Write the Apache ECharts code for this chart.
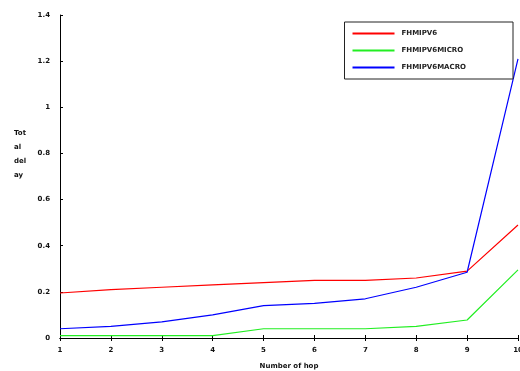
<!DOCTYPE html>
<html>
<head>
<meta charset="utf-8">
<script src="https://cdn.jsdelivr.net/npm/echarts@6/dist/echarts.min.js"></script>
<style>
  html, body { margin: 0; padding: 0; background: #fff; }
  #chart { width: 520px; height: 371px; }
</style>
</head>
<body>
<div id="chart"></div>
<script>
  // hop numbers on the x axis
  var hops = [1, 2, 3, 4, 5, 6, 7, 8, 9, 10];
  // total delay per scheme
  var fhmipv6 = [0.195, 0.21, 0.22, 0.23, 0.24, 0.25, 0.25, 0.26, 0.29, 0.49];
  var fhmipv6Micro = [0.01, 0.01, 0.01, 0.01, 0.04, 0.04, 0.04, 0.05, 0.078, 0.295];
  var fhmipv6Macro = [0.04, 0.05, 0.07, 0.1, 0.14, 0.15, 0.17, 0.22, 0.285, 1.21];
  var seriesNames = ['FHMIPV6', 'FHMIPV6MICRO', 'FHMIPV6MACRO'];

  function pairs(vals) {
    return hops.map(function (h, i) { return [h, vals[i]]; });
  }

  var myChart = echarts.init(document.getElementById('chart'));
  var font = { fontFamily: 'DejaVu Sans', fontSize: 7, fontWeight: 'bold', color: '#111' };

  var option = {
    animation: false,
    // y axis title, broken over lines like in the source image
    title: {
      text: 'Tot\nal\ndel\nay',
      left: 9,
      top: 121,
      textStyle: { fontFamily: 'DejaVu Sans', fontSize: 7, fontWeight: 'bold', color: '#111', lineHeight: 14 }
    },
    grid: {
      top: 15,
      left: 60,
      right: 2,
      bottom: 33,
      outerBoundsMode: 'none'
    },
    legend: {
      orient: 'vertical',
      right: 7,
      top: 22,
      padding: [8, 47, 8, 8],
      itemGap: 10,
      itemWidth: 42,
      itemHeight: 2,
      icon: 'rect',
      borderColor: '#222',
      borderWidth: 1,
      backgroundColor: '#fff',
      textStyle: { fontFamily: 'DejaVu Sans', fontSize: 7, fontWeight: 'bold', color: '#222', padding: [0, 0, 0, 2] },
      data: seriesNames
    },
    xAxis: [{
      type: 'value',
      min: 1,
      max: 10,
      interval: 1,
      name: 'Number of hop',
      nameLocation: 'middle',
      nameGap: 25,
      nameTextStyle: font,
      axisLine: { onZero: false, lineStyle: { color: '#000', width: 1 } },
      axisTick: { inside: true, length: 3, lineStyle: { color: '#000' } },
      axisLabel: { margin: 9, fontFamily: 'DejaVu Sans', fontSize: 7, fontWeight: 'bold', color: '#111' },
      splitLine: { show: false }
    }, {
      type: 'value',
      position: 'top',
      min: 1,
      max: 10,
      interval: 1,
      axisLine: { show: true, lineStyle: { color: '#000', width: 1 } },
      axisTick: { inside: true, length: 3, lineStyle: { color: '#000' } },
      axisLabel: { show: false },
      splitLine: { show: false }
    }],
    yAxis: {
      type: 'value',
      min: 0,
      max: 1.4,
      interval: 0.2,
      axisLine: { show: true, lineStyle: { color: '#000', width: 1 } },
      axisTick: { show: true, inside: true, length: 3, lineStyle: { color: '#000' } },
      axisLabel: {
        margin: 10,
        fontFamily: 'DejaVu Sans', fontSize: 7, fontWeight: 'bold', color: '#111',
        formatter: function (v) { return String(Math.round(v * 10) / 10); }
      },
      splitLine: { show: false }
    },
    series: [{
      name: seriesNames[0],
      type: 'line',
      symbol: 'none',
      color: '#ff0000',
      lineStyle: { width: 1.2 },
      data: pairs(fhmipv6)
    }, {
      name: seriesNames[1],
      type: 'line',
      symbol: 'none',
      color: '#22ee22',
      lineStyle: { width: 1.2 },
      data: pairs(fhmipv6Micro)
    }, {
      name: seriesNames[2],
      type: 'line',
      symbol: 'none',
      color: '#0000ff',
      lineStyle: { width: 1.2 },
      data: pairs(fhmipv6Macro)
    }]
  };
  myChart.setOption(option);
</script>
</body>
</html>
